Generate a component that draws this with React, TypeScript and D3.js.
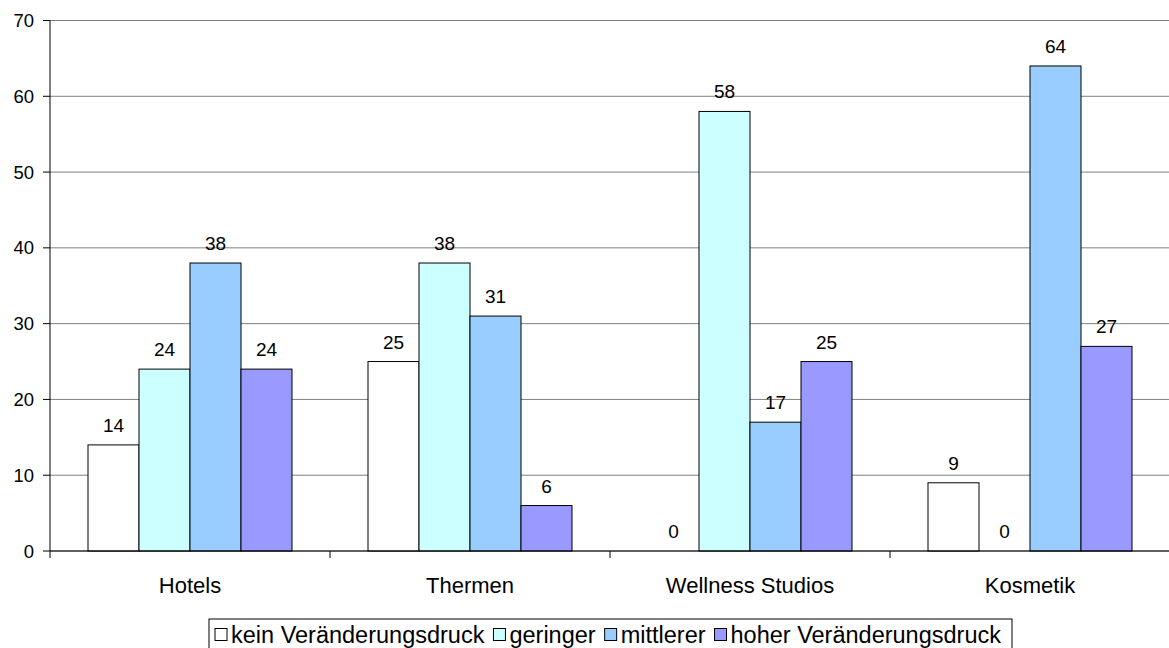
import React from "react";
import * as d3 from "d3";

const categories = ["Hotels", "Thermen", "Wellness Studios", "Kosmetik"];
const seriesNames = ["kein Veränderungsdruck", "geringer", "mittlerer", "hoher Veränderungsdruck"];
const seriesColors = ["#FFFFFF", "#CCFFFF", "#99CCFF", "#9999FF"];
// values[series][category]
const kein = [14, 25, 0, 9];
const geringer = [24, 38, 58, 0];
const mittlerer = [38, 31, 17, 64];
const hoher = [24, 6, 25, 27];
const values = [kein, geringer, mittlerer, hoher];
const yTicks = [0, 10, 20, 30, 40, 50, 60, 70];

const W = 1169;
const H = 648;
const plot = { left: 50, right: 1170, top: 20.5, bottom: 551 };
const FONT = "'Liberation Sans', Arial, sans-serif";
const TICK_FS = 18.5;
const VALUE_FS = 19;
const CAT_FS = 22;
const LEGEND_FS = 23.5;

function measure(s: string, size: number): number {
  const c = document.createElement("canvas").getContext("2d")!;
  c.font = `${size}px ${FONT}`;
  return c.measureText(s).width;
}

export default function App() {
  const x0 = d3.scaleBand<string>().domain(categories).range([plot.left, plot.right]);
  const x1 = d3
    .scaleBand<string>()
    .domain(seriesNames)
    .range([0, x0.bandwidth()])
    .paddingInner(0)
    .paddingOuter(38 / 51);
  const y = d3.scaleLinear().domain([0, 70]).range([plot.bottom, plot.top]);

  const legendX = 209;
  const legendY = 619;
  const legendW = 803;

  // legend layout: swatch, gap, label, then spacing to the next entry
  const legendEntries: { sx: number; tx: number }[] = [];
  {
    let cx = legendX + 6;
    seriesNames.forEach((name) => {
      legendEntries.push({ sx: cx, tx: cx + 16 });
      cx += 16 + measure(name, LEGEND_FS) + 9;
    });
  }

  return (
    <svg width={W} height={H} style={{ position: "absolute", left: 0, top: 0 }} fontFamily={FONT}>
      <rect width={W} height={H} fill="#fff" />
      {/* gridlines */}
      {yTicks.map((t) => (
        <line key={t} x1={plot.left} x2={W} y1={y(t)} y2={y(t)} stroke="#808080" strokeWidth={1} />
      ))}
      {/* bars and value labels */}
      {categories.map((c, ci) =>
        seriesNames.map((s, si) => {
          const v = values[si][ci];
          const bx = x0(c)! + x1(s)!;
          return (
            <g key={c + s}>
              {v > 0 && (
                <rect
                  x={bx}
                  y={y(v)}
                  width={x1.bandwidth()}
                  height={y(0) - y(v)}
                  fill={seriesColors[si]}
                  stroke="#000"
                  strokeWidth={1}
                />
              )}
              <text
                x={bx + x1.bandwidth() / 2}
                y={y(v) - 13}
                textAnchor="middle"
                fontSize={VALUE_FS}
                fill="#000"
              >
                {v}
              </text>
            </g>
          );
        })
      )}
      {/* y axis */}
      <line x1={plot.left} x2={plot.left} y1={plot.top} y2={plot.bottom} stroke="#000" />
      {yTicks.map((t) => (
        <g key={"yt" + t}>
          <line x1={plot.left - 7} x2={plot.left} y1={y(t)} y2={y(t)} stroke="#000" />
          <text x={plot.left - 16} y={y(t) + 6.5} textAnchor="end" fontSize={TICK_FS} fill="#000">
            {t}
          </text>
        </g>
      ))}
      {/* x axis */}
      <line x1={plot.left} x2={W} y1={plot.bottom} y2={plot.bottom} stroke="#000" />
      {categories.map((c) => (
        <line
          key={"xt" + c}
          x1={x0(c)!}
          x2={x0(c)!}
          y1={plot.bottom}
          y2={plot.bottom + 7}
          stroke="#000"
        />
      ))}
      {categories.map((c) => (
        <text
          key={"xl" + c}
          x={x0(c)! + x0.bandwidth() / 2}
          y={593}
          textAnchor="middle"
          fontSize={CAT_FS}
          fill="#000"
        >
          {c}
        </text>
      ))}
      {/* legend */}
      <rect x={legendX} y={legendY} width={legendW} height={40} fill="#fff" stroke="#000" />
      {seriesNames.map((name, i) => (
        <g key={"lg" + i}>
          <rect
            x={legendEntries[i].sx}
            y={628.5}
            width={12}
            height={12}
            fill={seriesColors[i]}
            stroke="#000"
          />
          <text x={legendEntries[i].tx} y={643} fontSize={LEGEND_FS} fill="#000">
            {name}
          </text>
        </g>
      ))}
    </svg>
  );
}
